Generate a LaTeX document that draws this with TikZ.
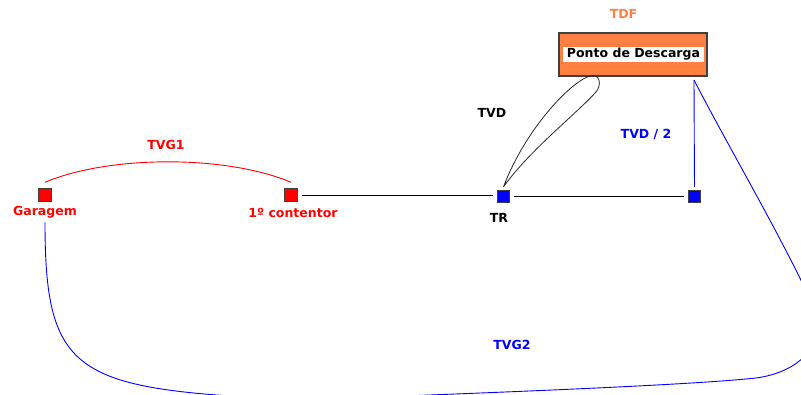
\documentclass[tikz,border=0pt]{standalone}
\usepackage{fontspec}
\setmainfont{DejaVu Sans}
\definecolor{orng}{RGB}{255,128,64}
\definecolor{tdfc}{RGB}{255,128,64}
\definecolor{sqedge}{RGB}{64,64,64}
\definecolor{bl}{RGB}{0,0,255}
\definecolor{rd}{RGB}{255,0,0}
\begin{document}
\begin{tikzpicture}[x=1pt,y=-1pt,
  lbl/.style={font=\fontsize{12.5}{14}\selectfont\bfseries, inner sep=0pt},
  sq/.style={draw=sqedge, line width=1pt, minimum size=12.5pt, inner sep=0pt},
  redsq/.style={sq, fill=rd},
  bluesq/.style={sq, fill=bl},
  conn/.style={line width=0.9pt, shorten <=4pt, shorten >=4pt}]
\useasboundingbox (0,0) rectangle (801,394);
\clip (0,0) rectangle (801,394);
% squares
\node[redsq] (g) at (45,195) {};
\node[redsq] (c1) at (291,195) {};
\node[bluesq] (tr) at (503.5,196.5) {};
\node[bluesq] (r) at (694.5,196.5) {};
% labels
\node[lbl, text=rd] (glbl) at (45,212.5) {Garagem};
\node[lbl, text=rd] (c1lbl) at (293,212.5) {1º contentor};
\node[lbl] (trlbl) at (499,217.5) {TR};
\node[lbl, text=rd] (tvg1) at (166,145) {TVG1};
\node[lbl] (tvd) at (492,112.5) {TVD};
\node[lbl, text=bl] (tvd2) at (646,134) {TVD / 2};
\node[lbl, text=bl] (tvg2) at (512,345) {TVG2};
\node[lbl, text=tdfc] (tdf) at (623.5,14) {TDF};
% Ponto de Descarga box
\node[draw=sqedge, line width=1.2pt, fill=orng, minimum width=148pt, minimum height=43pt, inner sep=0pt] (pd) at (633,54.5) {};
\node[fill=white, minimum width=141pt, minimum height=15pt, inner sep=0pt, font=\fontsize{12.5}{14}\selectfont\bfseries] (pdt) at (633.5,54.5) {Ponto de Descarga};
% coordinates
\coordinate (looptip) at ([yshift=3pt]tr.north);
\coordinate (looptop) at (590,76);
\coordinate (loopright) at (596,92);
\coordinate (bstart) at (45,222);
\coordinate (b1) at (230,396);
\coordinate (b2) at (404,396);
\coordinate (b3) at (756,378);
\coordinate (b4) at (818,318);
\coordinate (pdc) at (694,80);
% connectors
\draw[rd, line width=0.9pt] ([yshift=6pt]g.north) .. controls (110,155) and (226,155) .. ([yshift=6pt]c1.north);
\draw[conn] (c1.east) -- (c1.east -| tr.west);
\draw[conn] (tr.east) -- (r.west);
\draw[black!85, line width=0.8pt] (looptip) .. controls (525,130) and (570,82) .. (looptop)
  .. controls (600,73) and (602,85) .. (loopright)
  .. controls (575,115) and (530,150) .. (looptip);
\draw[bl, line width=0.9pt, shorten <=3pt] (r.north) -- (pdc);
\draw[bl, line width=0.9pt] (bstart) .. controls (45,360) and (70,385) .. (b1) -- (b2)
  .. controls (560,390) and (700,384) .. (b3)
  .. controls (800,372) and (822,345) .. (b4)
  .. controls (795,260) and (730,150) .. (pdc);
\end{tikzpicture}
\end{document}
